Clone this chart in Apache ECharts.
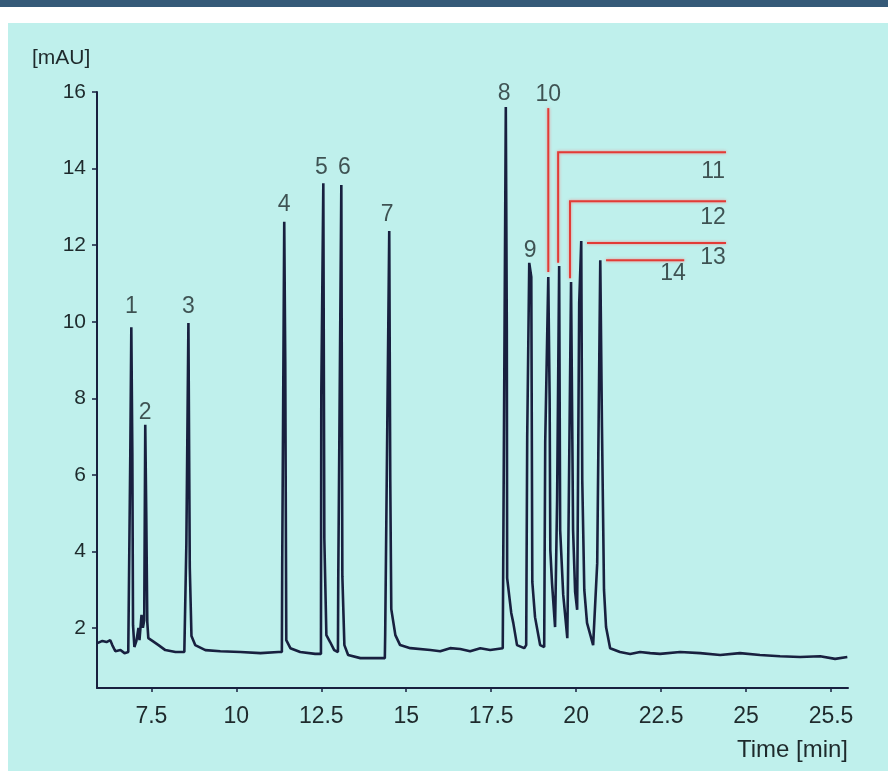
<!DOCTYPE html>
<html>
<head>
<meta charset="utf-8">
<title>Chromatogram</title>
<script src="https://cdn.jsdelivr.net/npm/echarts@6.0.0/dist/echarts.min.js"></script>
<style>
  html, body { margin: 0; padding: 0; background: #ffffff; }
  #band { position: absolute; left: 0; top: 0; width: 888px; height: 7px; background: #355a78; }
  #chart { position: absolute; left: 8px; top: 23px; width: 880px; height: 748px; background: #bff0ec; }
</style>
</head>
<body>
<div id="band"></div>
<div id="chart"></div>
<script>
// detector trace, time in min / absorbance in mAU
var traceTime = [
  5.91, 6.06, 6.18, 6.29, 6.35, 6.44, 6.59, 6.71, 6.82, 6.87,
  6.88, 6.91, 6.94, 6.96, 7.00, 7.06, 7.12, 7.15, 7.21, 7.25,
  7.29, 7.32, 7.35, 7.38, 7.41, 7.53, 7.71, 7.91, 8.21, 8.47,
  8.53, 8.59, 8.63, 8.68, 8.79, 9.09, 9.53, 10.12, 10.71, 11.24,
  11.34, 11.35, 11.41, 11.44, 11.47, 11.59, 11.88, 12.32, 12.49, 12.50,
  12.56, 12.59, 12.65, 12.76, 12.88, 12.99, 13.00, 13.09, 13.12, 13.18,
  13.29, 13.65, 14.00, 14.37, 14.38, 14.50, 14.53, 14.56, 14.68, 14.82,
  15.12, 15.71, 16.00, 16.29, 16.59, 16.88, 17.18, 17.47, 17.84, 17.93,
  17.96, 17.97, 18.09, 18.15, 18.26, 18.47, 18.53, 18.56, 18.62, 18.68,
  18.71, 18.79, 18.94, 19.06, 19.09, 19.18, 19.22, 19.24, 19.29, 19.38,
  19.44, 19.50, 19.53, 19.62, 19.74, 19.76, 19.85, 19.91, 19.97, 20.03,
  20.09, 20.15, 20.18, 20.24, 20.32, 20.50, 20.62, 20.71, 20.76, 20.82,
  20.88, 21.00, 21.29, 21.59, 21.88, 22.18, 22.47, 23.06, 23.65, 24.24,
  24.82, 25.41, 26.00, 26.59, 27.18, 27.62, 27.98
];
var traceMAU = [
  1.61, 1.67, 1.64, 1.69, 1.56, 1.40, 1.43, 1.35, 1.38, 1.43,
  6.57, 9.86, 6.57, 2.08, 1.51, 1.67, 2.01, 1.69, 2.35, 2.01,
  2.21, 7.31, 4.96, 2.16, 1.74, 1.67, 1.56, 1.43, 1.38, 1.38,
  4.22, 9.97, 3.60, 1.80, 1.56, 1.43, 1.40, 1.38, 1.35, 1.38,
  1.38, 3.57, 12.61, 8.95, 1.69, 1.48, 1.38, 1.33, 1.33, 8.06,
  13.62, 4.33, 1.82, 1.64, 1.43, 1.38, 3.36, 13.57, 3.36, 1.56,
  1.30, 1.22, 1.22, 1.22, 1.80, 12.37, 5.87, 2.50, 1.82, 1.56,
  1.48, 1.43, 1.40, 1.48, 1.46, 1.40, 1.48, 1.43, 1.48, 15.61,
  9.79, 3.31, 2.40, 2.14, 1.56, 1.48, 1.56, 6.99, 11.54, 11.17,
  3.21, 2.29, 1.56, 1.51, 6.86, 11.17, 7.96, 4.04, 3.18, 2.03,
  5.35, 11.46, 4.56, 2.87, 1.74, 3.26, 11.04, 4.56, 2.95, 2.48,
  10.49, 12.11, 5.87, 3.00, 2.14, 1.56, 3.70, 11.61, 7.25, 3.00,
  2.03, 1.48, 1.38, 1.33, 1.38, 1.35, 1.33, 1.38, 1.35, 1.30,
  1.35, 1.30, 1.27, 1.25, 1.27, 1.20, 1.25
];

// peak numbers and where they are written
var peakNames = ['1', '2', '3', '4', '5', '6', '7', '8', '9', '10', '11', '12', '13', '14'];
var peakLabelTime = [6.91, 7.32, 8.59, 11.41, 12.50, 13.18, 14.44, 17.88, 18.65, 19.18, 24.03, 24.03, 24.03, 22.85];
var peakLabelMAU = [10.39, 7.64, 10.39, 13.05, 14.02, 14.02, 12.81, 15.95, 11.87, 15.92, 13.91, 12.71, 11.67, 11.25];

// red leader lines for peaks 10-14
var leader10 = [[19.18, 11.30], [19.18, 15.58]];
var leader11 = [[19.47, 11.54], [19.47, 14.43], [24.41, 14.43]];
var leader12 = [[19.82, 11.14], [19.82, 13.15], [24.41, 13.15]];
var leader13 = [[20.32, 12.06], [24.41, 12.06]];
var leader14 = [[20.88, 11.61], [23.18, 11.61]];

// axis ticks
var xTickValues = [7.5, 10, 12.5, 15, 17.5, 20, 22.5, 25, 27.5];
var xTickLabels = ['7.5', '10', '12.5', '15', '17.5', '20', '22.5', '25', '25.5'];
var yTickValues = [2, 4, 6, 8, 10, 12, 14, 16];

var FONT = '"Liberation Sans", Arial, sans-serif';
var INK = '#18203f';
var TEXT = '#1e2a2c';

var chart = echarts.init(document.getElementById('chart'), null, { renderer: 'canvas' });

var trace = traceTime.map(function (t, i) { return [t, traceMAU[i]]; });
var labels = peakNames.map(function (n, i) {
  return { name: n, value: [peakLabelTime[i], peakLabelMAU[i]] };
});

chart.setOption({
  animation: false,
  backgroundColor: 'transparent',
  textStyle: { fontFamily: FONT },
  grid: { left: 89, right: 40, top: 69, bottom: 83 },
  xAxis: {
    type: 'value',
    min: 5.9,
    max: 28.0,
    axisLine: { lineStyle: { color: INK, width: 2 } },
    axisTick: { show: true, inside: false, length: 4, customValues: xTickValues, lineStyle: { color: INK, width: 1.5 } },
    axisLabel: {
      customValues: xTickValues,
      margin: 17,
      color: TEXT,
      fontFamily: FONT,
      fontSize: 23,
      formatter: function (v) {
        var i = xTickValues.indexOf(v);
        return i >= 0 ? xTickLabels[i] : '';
      }
    },
    splitLine: { show: false }
  },
  yAxis: {
    type: 'value',
    min: 0.44,
    max: 16,
    axisLine: { show: true, lineStyle: { color: INK, width: 2 } },
    axisTick: { show: true, inside: false, length: 5, customValues: yTickValues, lineStyle: { color: INK, width: 1.5 } },
    axisLabel: { customValues: yTickValues, margin: 11, color: TEXT, fontFamily: FONT, fontSize: 21 },
    splitLine: { show: false }
  },
  graphic: [
    { type: 'text', left: 24, top: 25, style: { text: '[mAU]', font: '21px ' + FONT, fill: TEXT } },
    { type: 'text', right: 40, top: 715, style: { text: 'Time [min]', font: '24px ' + FONT, fill: TEXT } }
  ],
  series: [
    {
      name: 'leaders',
      type: 'lines',
      coordinateSystem: 'cartesian2d',
      polyline: true,
      silent: true,
      z: 1,
      lineStyle: { color: '#e23b36', width: 2, opacity: 1, shadowColor: 'rgba(245,130,130,0.9)', shadowBlur: 3 },
      data: [
        { coords: leader10 },
        { coords: leader11 },
        { coords: leader12 },
        { coords: leader13 },
        { coords: leader14 }
      ]
    },
    {
      name: 'signal',
      type: 'line',
      z: 2,
      showSymbol: false,
      symbol: 'none',
      data: trace,
      lineStyle: { color: INK, width: 2.6 }
    },
    {
      name: 'peaks',
      type: 'scatter',
      z: 3,
      symbolSize: 1,
      itemStyle: { color: 'rgba(0,0,0,0)' },
      silent: true,
      data: labels,
      label: {
        show: true,
        position: 'inside',
        formatter: '{b}',
        color: TEXT,
        fontFamily: FONT,
        fontSize: 23
      }
    }
  ]
});
</script>
</body>
</html>
